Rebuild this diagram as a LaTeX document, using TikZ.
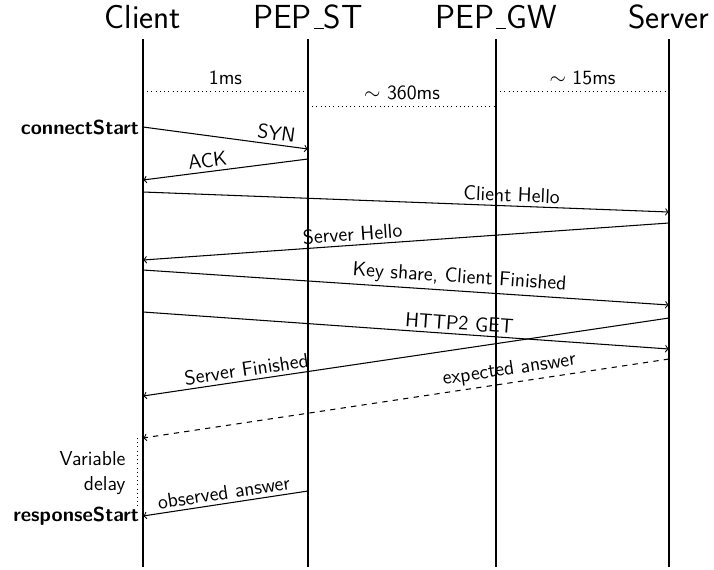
\documentclass[tikz,border=0pt]{standalone}
\usetikzlibrary{positioning}
\renewcommand{\familydefault}{\sfdefault}
\newcommand{\lblsize}{\fontsize{11.5}{14}\selectfont}
\newcommand{\lowbar}{\leavevmode\kern.06em\vbox{\hrule width.3em}}

\begin{document}
\begin{tikzpicture}[x=0.02cm,y=-0.02cm,
		every node/.style={font=\sffamily\lblsize},
		party/.style={font=\sffamily\fontsize{19}{22}\selectfont},
		msg/.style={->,semithick},
		lbl/.style={above,sloped,inner sep=2pt},
		stamp/.style={anchor=east,font=\sffamily\lblsize\bfseries,inner sep=2pt}]
	\useasboundingbox (0,0) rectangle (714,569);

	% lifelines
	\foreach \n/\t/\x in {client/Client/143, pepst/{PEP\lowbar ST}/308, pepgw/{PEP\lowbar GW}/496, server/Server/669} {
		\node[party] (\n) at (\x,17) {\t};
		\coordinate (\n top) at (\x,39);
		\coordinate (\n bot) at (\x,567);
		\draw[semithick] (\n top) -- (\n bot);
	}

	% link delays
	\coordinate (d1a) at (143,91); \coordinate (d1b) at (308,91);
	\coordinate (d2a) at (308,106); \coordinate (d2b) at (496,106);
	\coordinate (d3a) at (496,91); \coordinate (d3b) at (669,91);
	\draw[dotted] (d1a) -- node[above] {1ms} (d1b);
	\draw[dotted] (d2a) -- node[above] {$\sim$ 360ms} (d2b);
	\draw[dotted] (d3a) -- node[above] {$\sim$ 15ms} (d3b);

	% handshake
	\coordinate (syn a) at (143,127); \coordinate (syn b) at (308,149);
	\node[stamp] (connect) at (syn a) {connectStart};
	\draw[msg] (syn a) -- node[lbl,pos=0.8] {SYN} (syn b);

	\coordinate (ack a) at (308,159); \coordinate (ack b) at (143,180);
	\draw[msg] (ack a) -- node[lbl,pos=0.6] {ACK} (ack b);

	\coordinate (ch a) at (143,192); \coordinate (ch b) at (669,212);
	\draw[msg] (ch a) -- node[lbl,pos=0.7] {Client Hello} (ch b);

	\coordinate (sh a) at (669,223); \coordinate (sh b) at (143,260);
	\draw[msg] (sh a) -- node[lbl,pos=0.6] {Server Hello} (sh b);

	\coordinate (ks a) at (143,270); \coordinate (ks b) at (669,305);
	\draw[msg] (ks a) -- node[lbl,pos=0.6] {Key share, Client Finished} (ks b);

	\coordinate (get a) at (143,312); \coordinate (get b) at (669,349);
	\draw[msg] (get a) -- node[lbl,pos=0.6] {HTTP2 GET} (get b);

	\coordinate (sf a) at (669,318); \coordinate (sf b) at (143,396);
	\draw[msg] (sf a) -- node[lbl,pos=0.8] {Server Finished} (sf b);

	% answers
	\coordinate (exp a) at (669,359); \coordinate (exp b) at (143,438);
	\draw[msg,dashed] (exp a) -- node[lbl,pos=0.3] {expected answer} (exp b);

	\coordinate (obs a) at (308,491); \coordinate (obs b) at (143,516);
	\draw[msg] (obs a) -- node[lbl,pos=0.5] {observed answer} (obs b);
	\node[stamp] (response) at (obs b) {responseStart};

	\coordinate (var a) at (137,438); \coordinate (var b) at (137,508);
	\draw[dotted] (var a) -- node[left=3pt,align=right] (var) {Variable\\delay} (var b);
\end{tikzpicture}
\end{document}
